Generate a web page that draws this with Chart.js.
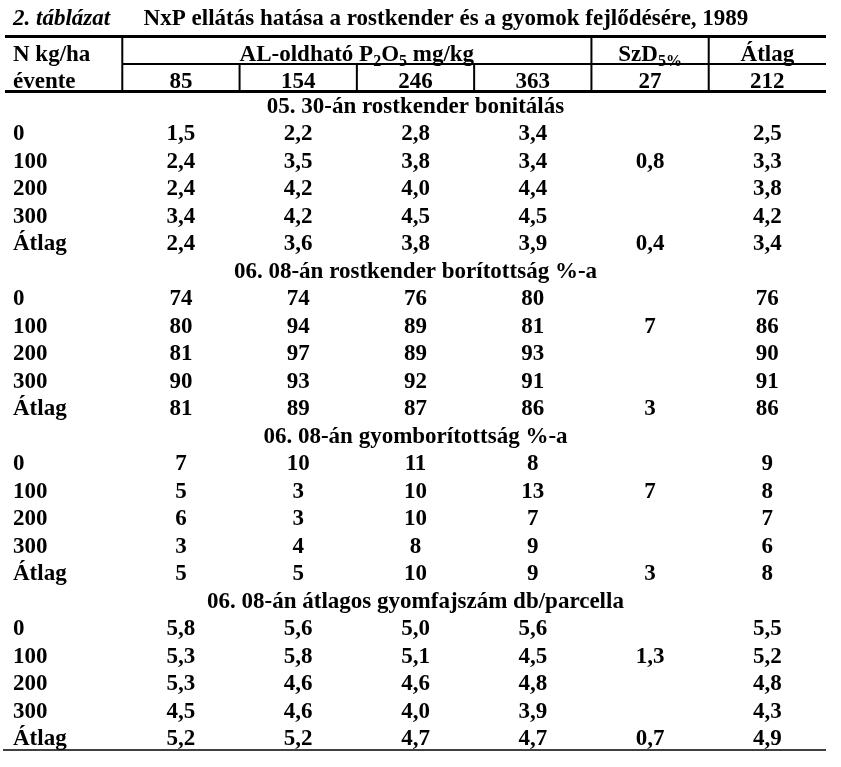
<!DOCTYPE html>
<html>
<head>
<meta charset="utf-8">
<script src="https://cdn.jsdelivr.net/npm/chart.js@4.4.1/dist/chart.umd.min.js"></script>
<style>
  html, body { margin: 0; padding: 0; background: #fff; }
  #wrap { width: 841px; height: 767px; }
</style>
</head>
<body>
<div id="wrap"><canvas id="tabla" width="841" height="767"></canvas></div>
<script>
// table content
var tableNo = '2. táblázat';
var tableTitle = 'NxP ellátás hatása a rostkender és a gyomok fejlődésére, 1989';
var pLevels = ['85', '154', '246', '363'];
var szdHead = '27';
var atlagHead = '212';
var nLevels = ['0', '100', '200', '300', 'Átlag'];

var sectionTitles = [
    '05. 30-án rostkender bonitálás',
    '06. 08-án rostkender borítottság %-a',
    '06. 08-án gyomborítottság %-a',
    '06. 08-án átlagos gyomfajszám db/parcella'
];
var sectionDecimals = [1, 0, 0, 1];

var bonitalas = [[1.5, 2.2, 2.8, 3.4], [2.4, 3.5, 3.8, 3.4], [2.4, 4.2, 4.0, 4.4], [3.4, 4.2, 4.5, 4.5], [2.4, 3.6, 3.8, 3.9]];
var bonitalasSzd = [null, 0.8, null, null, 0.4];
var bonitalasAtlag = [2.5, 3.3, 3.8, 4.2, 3.4];

var boritottsag = [[74, 74, 76, 80], [80, 94, 89, 81], [81, 97, 89, 93], [90, 93, 92, 91], [81, 89, 87, 86]];
var boritottsagSzd = [null, 7, null, null, 3];
var boritottsagAtlag = [76, 86, 90, 91, 86];

var gyom = [[7, 10, 11, 8], [5, 3, 10, 13], [6, 3, 10, 7], [3, 4, 8, 9], [5, 5, 10, 9]];
var gyomSzd = [null, 7, null, null, 3];
var gyomAtlag = [9, 8, 7, 6, 8];

var fajszam = [[5.8, 5.6, 5.0, 5.6], [5.3, 5.8, 5.1, 4.5], [5.3, 4.6, 4.6, 4.8], [4.5, 4.6, 4.0, 3.9], [5.2, 5.2, 4.7, 4.7]];
var fajszamSzd = [null, 1.3, null, null, 0.7];
var fajszamAtlag = [5.5, 5.2, 4.8, 4.3, 4.9];

var sectionValues = [bonitalas, boritottsag, gyom, fajszam];
var sectionSzd = [bonitalasSzd, boritottsagSzd, gyomSzd, fajszamSzd];
var sectionAtlag = [bonitalasAtlag, boritottsagAtlag, gyomAtlag, fajszamAtlag];

function fmt(v, d) {
    if (v === null) return null;
    return v.toFixed(d).replace('.', ',');
}

// build cells: x = column (0..6, center at +0.5), y = row index
var points = [];
var cells = [];
function addCell(col, row, text, opt) {
    opt = opt || {};
    points.push({ x: opt.x !== undefined ? opt.x : col + 0.5, y: row });
    cells.push({ text: text, align: opt.align || 'center', italic: !!opt.italic });
}

// title sits a little high, header text a little low in its box
var titleRow = -0.2, head1 = 1.1, head2 = 2.1;
addCell(0, titleRow, [{ t: tableNo }], { x: 0, align: 'left', italic: true });
addCell(0, titleRow, [{ t: tableTitle }], { x: 3.76 });
addCell(0, head1, [{ t: 'N kg/ha' }], { x: 0, align: 'left' });
addCell(0, head1, [{ t: 'AL-oldható P' }, { t: '2', sub: true }, { t: 'O' }, { t: '5', sub: true }, { t: ' mg/kg' }], { x: 3 });
addCell(5, head1, [{ t: 'SzD' }, { t: '5%', sub: true }]);
addCell(6, head1, [{ t: 'Átlag' }]);
addCell(0, head2, [{ t: 'évente' }], { x: 0, align: 'left' });
pLevels.forEach(function (p, i) { addCell(i + 1, head2, [{ t: p }]); });
addCell(5, head2, [{ t: szdHead }]);
addCell(6, head2, [{ t: atlagHead }]);

var row = 3;
sectionTitles.forEach(function (title, s) {
    addCell(0, row, [{ t: title }], { x: 3.5 });
    row++;
    var d = sectionDecimals[s];
    nLevels.forEach(function (n, r) {
        addCell(0, row, [{ t: n }], { x: 0, align: 'left' });
        sectionValues[s][r].forEach(function (v, c) { addCell(c + 1, row, [{ t: fmt(v, d) }]); });
        var szd = fmt(sectionSzd[s][r], d);
        if (szd !== null) addCell(5, row, [{ t: szd }]);
        addCell(6, row, [{ t: fmt(sectionAtlag[s][r], d) }]);
        row++;
    });
});

// rules: [y, x0, x1, width] horizontal, [x, y0, y1] vertical
var hRules = [[0.5, 0, 7, 3], [1.5, 1, 7, 2], [2.5, 0, 7, 3]];
var vRules = [[1, 0.5, 2.5], [2, 1.5, 2.5], [3, 1.5, 2.5], [4, 1.5, 2.5], [5, 0.5, 2.5], [6, 0.5, 2.5]];

var FONT = '"Liberation Serif", "Times New Roman", serif';
var SIZE = 23;

var tablePlugin = {
    id: 'tablePlugin',
    beforeDatasetsDraw: function (chart) {
        var ctx = chart.ctx, xs = chart.scales.x, ys = chart.scales.y;
        ctx.save();
        ctx.strokeStyle = '#000';
        hRules.forEach(function (r) {
            ctx.lineWidth = r[3];
            ctx.beginPath();
            ctx.moveTo(xs.getPixelForValue(r[1]), ys.getPixelForValue(r[0]));
            ctx.lineTo(xs.getPixelForValue(r[2]), ys.getPixelForValue(r[0]));
            ctx.stroke();
        });
        ctx.lineWidth = 2;
        vRules.forEach(function (r) {
            ctx.beginPath();
            ctx.moveTo(xs.getPixelForValue(r[0]), ys.getPixelForValue(r[1]));
            ctx.lineTo(xs.getPixelForValue(r[0]), ys.getPixelForValue(r[2]));
            ctx.stroke();
        });
        // closing rule at the bottom of the table
        ctx.lineWidth = 1.5;
        ctx.beginPath();
        ctx.moveTo(chart.chartArea.left - 2, chart.chartArea.bottom);
        ctx.lineTo(chart.chartArea.right, chart.chartArea.bottom);
        ctx.stroke();
        ctx.restore();
    },
    afterDatasetsDraw: function (chart) {
        var ctx = chart.ctx;
        var meta = chart.getDatasetMeta(0);
        ctx.save();
        ctx.fillStyle = '#000';
        ctx.textBaseline = 'alphabetic';
        meta.data.forEach(function (el, i) {
            var c = cells[i];
            var style = (c.italic ? 'italic ' : '') + 'bold ';
            var main = style + SIZE + 'px ' + FONT;
            var sub = style + Math.round(SIZE * 0.68) + 'px ' + FONT;
            var w = 0;
            c.text.forEach(function (seg) { ctx.font = seg.sub ? sub : main; w += ctx.measureText(seg.t).width; });
            var x = c.align === 'left' ? el.x + 8 : el.x - w / 2;
            var base = el.y + SIZE * 0.33;
            c.text.forEach(function (seg) {
                ctx.font = seg.sub ? sub : main;
                ctx.fillText(seg.t, x, seg.sub ? base + 5 : base);
                x += ctx.measureText(seg.t).width;
            });
        });
        ctx.restore();
    }
};

var chart = new Chart(document.getElementById('tabla').getContext('2d'), {
    type: 'scatter',
    data: {
        datasets: [{
            label: 'cells',
            data: points,
            pointRadius: 0,
            pointHoverRadius: 0
        }]
    },
    options: {
        responsive: false,
        animation: false,
        events: [],
        layout: { padding: { left: 5, right: 15, top: 9, bottom: 17 } },
        plugins: { legend: { display: false }, tooltip: { enabled: false } },
        scales: {
            x: { type: 'linear', min: 0, max: 7, display: false },
            y: { type: 'linear', min: -0.5, max: 26.44, reverse: true, display: false }
        }
    },
    plugins: [tablePlugin]
});
</script>
</body>
</html>
